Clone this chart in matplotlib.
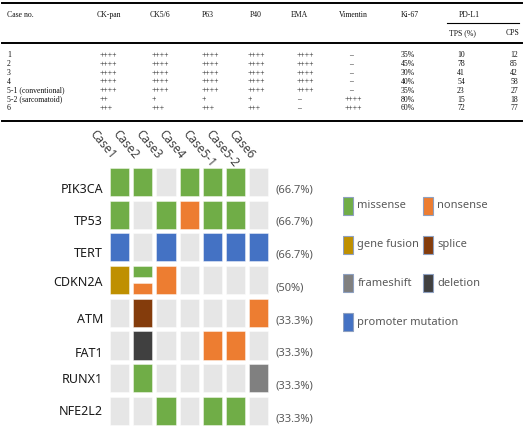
import matplotlib.pyplot as plt
from matplotlib.patches import Rectangle

# ---- table data ----
header = ['Case no.', 'CK-pan', 'CK5/6', 'P63', 'P40', 'EMA', 'Vimentin', 'Ki-67']
case_no = ['1', '2', '3', '4', '5-1 (conventional)', '5-2 (sarcomatoid)', '6']
ck_pan = ['++++', '++++', '++++', '++++', '++++', '++', '+++']
ck56 = ['++++', '++++', '++++', '++++', '++++', '+', '+++']
p63 = ['++++', '++++', '++++', '++++', '++++', '+', '+++']
p40 = ['++++', '++++', '++++', '++++', '++++', '+', '+++']
ema = ['++++', '++++', '++++', '++++', '++++', '–', '–']
vimentin = ['–', '–', '–', '–', '–', '++++', '++++']
ki67 = ['35%', '45%', '30%', '40%', '35%', '80%', '60%']
tps = [10, 78, 41, 54, 23, 15, 72]
cps = [12, 85, 42, 58, 27, 18, 77]

# ---- oncoprint data ----
cases = ['Case1', 'Case2', 'Case3', 'Case4', 'Case5-1', 'Case5-2', 'Case6']
genes = ['PIK3CA', 'TP53', 'TERT', 'CDKN2A', 'ATM', 'FAT1', 'RUNX1', 'NFE2L2']
gene_pct = ['(66.7%)', '(66.7%)', '(66.7%)', '(50%)', '(33.3%)', '(33.3%)', '(33.3%)', '(33.3%)']
muts = [
    ['missense', 'missense', '', 'missense', 'missense', 'missense', ''],
    ['missense', '', 'missense', 'nonsense', 'missense', 'missense', ''],
    ['promoter mutation', '', 'promoter mutation', '', 'promoter mutation', 'promoter mutation', 'promoter mutation'],
    ['gene fusion', 'missense/nonsense', 'nonsense', '', '', '', ''],
    ['', 'splice', '', '', '', '', 'nonsense'],
    ['', 'deletion', '', '', 'nonsense', 'nonsense', ''],
    ['', 'missense', '', '', '', '', 'frameshift'],
    ['', '', 'missense', '', 'missense', 'missense', ''],
]
colors = {
    'missense': '#70AD47',
    'nonsense': '#ED7D31',
    'gene fusion': '#BF9000',
    'splice': '#843C0C',
    'frameshift': '#808080',
    'deletion': '#404040',
    'promoter mutation': '#4472C4',
}
legend_order = ['missense', 'nonsense', 'gene fusion', 'splice', 'frameshift', 'deletion', 'promoter mutation']
empty = '#E6E6E6'

W, H = 528, 429
fig = plt.figure(figsize=(W / 100, H / 100), dpi=100)

# ---------- table ----------
ax_t = fig.add_axes([0, 1 - 123 / H, 1, 123 / H])
ax_t.set_xlim(0, W)
ax_t.set_ylim(123, 0)
ax_t.axis('off')
serif = dict(family='Liberation Serif', fontsize=5.6, color='#111111')

head_x = [7, 97, 150, 202, 250, 291, 339, 401]
val_x = [7, 100, 152, 202, 248, 297, 345, 401]
for x, h in zip(head_x, header):
    ax_t.text(x, 15, h, ha='left', va='center', **serif)
ax_t.text(469, 15, 'PD-L1', ha='center', va='center', **serif)
ax_t.text(449, 33, 'TPS (%)', ha='left', va='center', **serif)
ax_t.text(519, 33, 'CPS', ha='right', va='center', **serif)

ax_t.plot([2, 522], [3, 3], color='black', lw=1.4)
ax_t.plot([2, 522], [43, 43], color='black', lw=1.4)
ax_t.plot([447, 519], [23, 23], color='black', lw=0.8)
ax_t.plot([2, 522], [120.5, 120.5], color='black', lw=1.4)

columns = [case_no, ck_pan, ck56, p63, p40, ema, vimentin, ki67]
for i in range(len(case_no)):
    y = 55 + i * 8.9
    for x, col in zip(val_x, columns):
        v = col[i]
        dx = 4 if v == '–' and col is vimentin else 0
        ax_t.text(x + dx, y, v, ha='left', va='center', **serif)
    ax_t.text(461, y, str(tps[i]), ha='center', va='center', **serif)
    ax_t.text(518, y, str(cps[i]), ha='right', va='center', **serif)

# ---------- oncoprint ----------
px_col, px_row = 23.2, 32.7
ax = fig.add_axes([108 / W, 1 - (165.6 + 8 * px_row) / H, 7 * px_col / W, 8 * px_row / H])
ax.set_xlim(0, len(cases))
ax.set_ylim(len(genes), 0)
ax.axis('off')

cw, ch = 0.82, 0.86
for r, row in enumerate(muts):
    for c, m in enumerate(row):
        x0 = c + (1 - cw) / 2
        y0 = r + (1 - ch) / 2
        if '/' in m:
            top, bot = m.split('/')
            hh = ch * 0.4
            ax.add_patch(Rectangle((x0, y0), cw, hh, facecolor=colors[top],
                                   edgecolor=(1, 1, 1, 0.5), lw=0.6))
            ax.add_patch(Rectangle((x0, y0 + ch - hh), cw, hh, facecolor=colors[bot],
                                   edgecolor=(1, 1, 1, 0.5), lw=0.6))
        else:
            fc = colors[m] if m else empty
            ax.add_patch(Rectangle((x0, y0), cw, ch, facecolor=fc,
                                   edgecolor=(1, 1, 1, 0.5), lw=0.6))

label_dy = [0.72, 0.70, 0.70, 0.56, 0.72, 0.74, 0.54, 0.53]
for r, g in enumerate(genes):
    ax.text(-0.22, r + label_dy[r], g, ha='right', va='center', fontsize=9,
            fontweight='bold', family='Noto Sans', color='#1a1a1a')
    ax.text(7.2, r + 0.74, gene_pct[r], ha='left', va='center', fontsize=8,
            family='Noto Sans', color='#595959')

for c, name in enumerate(cases):
    ax.text(c - 0.7, -1.03, name, rotation=-50, rotation_mode='anchor',
            ha='left', va='center', fontsize=8.5, family='Noto Sans', color='#404040')

# ---------- legend ----------
ax_l = fig.add_axes([343 / W, 1 - 341.4 / H, 160 / W, 154.8 / H])
ax_l.set_xlim(0, 2)
ax_l.set_ylim(4, 0)
ax_l.axis('off')
for k, name in enumerate(legend_order):
    c, r = k % 2, k // 2
    ax_l.add_patch(Rectangle((c, r + 0.27), 0.12, 0.46, facecolor=colors[name],
                             edgecolor='#8EA0C0', lw=0.8))
    ax_l.text(c + 0.18, r + 0.5, name, ha='left', va='center', fontsize=8,
              family='Noto Sans', color='#595959')

fig.savefig('out.png', dpi=100)
